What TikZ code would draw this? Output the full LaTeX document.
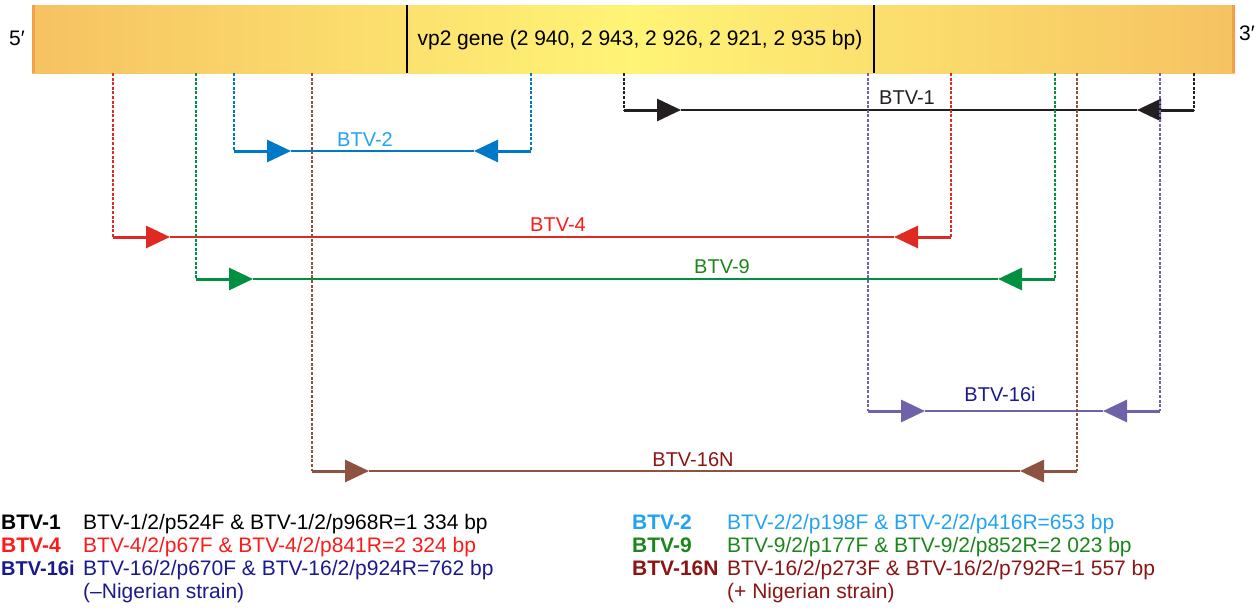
\documentclass[tikz,border=0pt]{standalone}
\usepackage{fontspec}
\setmainfont{Liberation Sans}
\usetikzlibrary{arrows.meta}
\definecolor{barend}{HTML}{F6C262}
\definecolor{barmid}{HTML}{FFF476}
\definecolor{edgeorange}{HTML}{F2A049}
\definecolor{cone}{HTML}{231F20}
\definecolor{ctwo}{HTML}{0078C8}
\definecolor{ltwo}{HTML}{22A3F2}
\definecolor{cfour}{HTML}{DE2A22}
\definecolor{lfour}{HTML}{FF1A1A}
\definecolor{cnine}{HTML}{00903F}
\definecolor{lnine}{HTML}{1C861C}
\definecolor{csixi}{HTML}{6F62A8}
\definecolor{lsixi}{HTML}{1A1A8C}
\definecolor{csixn}{HTML}{8E5241}
\definecolor{lsixn}{HTML}{8B1414}
\newcommand\amplicon[9]{%
  \coordinate (#1-tl) at (#3,73);
  \coordinate (#1-bl) at (#3,#5);
  \coordinate (#1-tr) at (#4,73);
  \coordinate (#1-br) at (#4,#5);
  \coordinate (#1-al) at (#3+57,#5);
  \coordinate (#1-ar) at (#4-57,#5);
  \draw[guide,#2] (#1-tl) -- (#1-bl);
  \draw[guide,#2] (#1-tr) -- (#1-br);
  \draw[span,#2] (#1-al) -- (#1-ar);
  \draw[primer,#2] (#1-bl) -- (#1-al);
  \draw[primer,#2] (#1-br) -- (#1-ar);
  \node[lab,text=#6] (#1-lab) at (#8,#9) {#7};
}
\begin{document}
\begin{tikzpicture}[x=1pt,y=-1pt,
  guide/.style={line width=1.6pt,dash pattern=on 3pt off 1.6pt},
  span/.style={line width=1.5pt},
  primer/.style={line width=3pt,-{Triangle[length=24pt,width=22pt]}},
  lab/.style={anchor=base,inner sep=0pt,font=\fontsize{20}{24}\selectfont},
  legl/.style={anchor=base west,inner sep=0pt,font=\fontsize{21}{24}\selectfont\bfseries},
  legt/.style={anchor=base west,inner sep=0pt,font=\fontsize{21}{24}\selectfont},
  divider/.style={line width=1.3pt,black}]
\useasboundingbox (0,0) rectangle (1257,610);
% gene bar
\node[anchor=north west,minimum width=1203pt,minimum height=68pt,inner sep=0pt,
  left color=barend,right color=barend,middle color=barmid] (bar) at (32,5) {};
\fill[edgeorange] (32,5) rectangle (35,73);
\fill[edgeorange] (1232,5) rectangle (1235,73);
\coordinate (d1t) at (407,5); \coordinate (d1b) at (407,73);
\coordinate (d2t) at (874,5); \coordinate (d2b) at (874,73);
\draw[divider] (d1t) -- (d1b);
\draw[divider] (d2t) -- (d2b);
\node[anchor=base,inner sep=0pt,font=\fontsize{21}{24}\selectfont] (gene) at (640,46) {vp2 gene (2 940, 2 943, 2 926, 2 921, 2 935 bp)};
\node[anchor=base west,inner sep=0pt,font=\fontsize{21}{24}\selectfont] (five) at (9,46) {5′};
\node[anchor=base west,inner sep=0pt,font=\fontsize{21}{24}\selectfont] (three) at (1239,41) {3′};
% amplicons
\amplicon{one}{cone}{624}{1194}{110}{cone}{BTV-1}{907}{104}
\amplicon{two}{ctwo}{234}{531}{151}{ltwo}{BTV-2}{365}{146}
\amplicon{four}{cfour}{113}{951}{237}{lfour}{BTV-4}{558}{231}
\amplicon{nine}{cnine}{196}{1055}{279}{lnine}{BTV-9}{722}{273}
\amplicon{sixi}{csixi}{868}{1160}{411}{lsixi}{BTV-16i}{1000}{401}
\amplicon{sixn}{csixn}{312}{1077}{471}{lsixn}{BTV-16N}{693}{466}
% legend
\node[legl,text=black] (k1) at (1,529) {BTV-1};
\node[legt,text=black] (t1) at (83,529) {BTV-1/2/p524F \& BTV-1/2/p968R=1 334 bp};
\node[legl,text=lfour] (k4) at (1,552) {BTV-4};
\node[legt,text=lfour] (t4) at (83,552) {BTV-4/2/p67F \& BTV-4/2/p841R=2 324 bp};
\node[legl,text=lsixi,font=\fontsize{20}{24}\selectfont\bfseries] (k16i) at (1,575) {BTV-16i};
\node[legt,text=lsixi] (t16i) at (83,575) {BTV-16/2/p670F \& BTV-16/2/p924R=762 bp};
\node[legt,text=lsixi] (t16ib) at (83,598) {(–Nigerian strain)};
\node[legl,text=ltwo] (k2) at (632,529) {BTV-2};
\node[legt,text=ltwo] (t2) at (727,529) {BTV-2/2/p198F \& BTV-2/2/p416R=653 bp};
\node[legl,text=lnine] (k9) at (632,552) {BTV-9};
\node[legt,text=lnine] (t9) at (727,552) {BTV-9/2/p177F \& BTV-9/2/p852R=2 023 bp};
\node[legl,text=lsixn] (k16n) at (632,575) {BTV-16N};
\node[legt,text=lsixn] (t16n) at (727,575) {BTV-16/2/p273F \& BTV-16/2/p792R=1 557 bp};
\node[legt,text=lsixn] (t16nb) at (727,598) {(+ Nigerian strain)};
\end{tikzpicture}
\end{document}
